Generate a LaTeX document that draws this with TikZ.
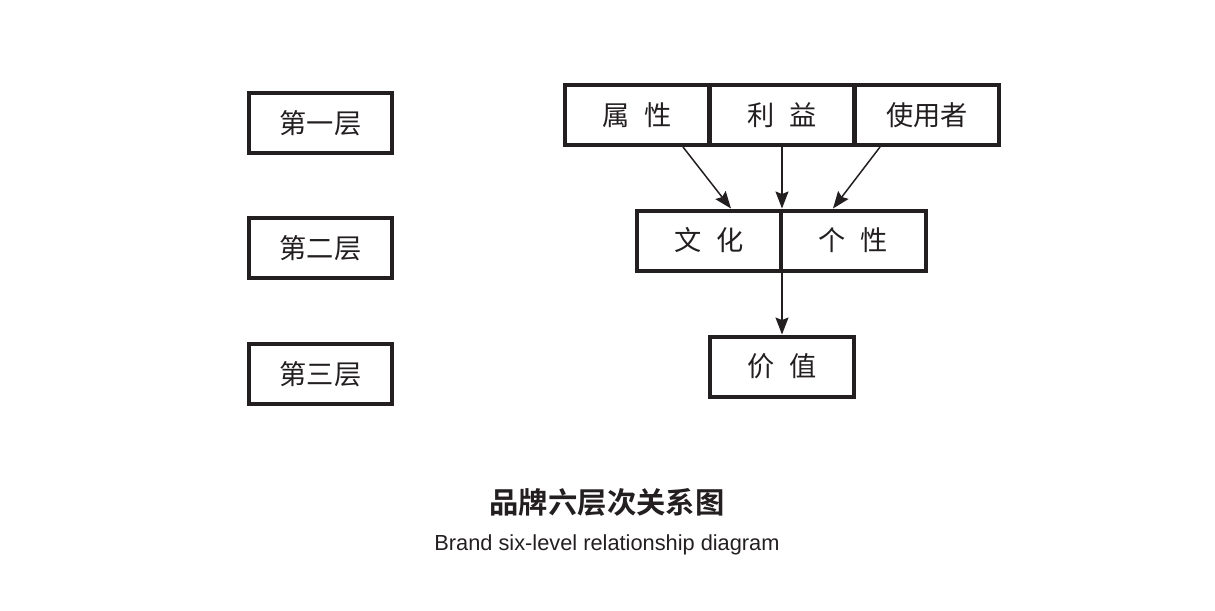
\documentclass[tikz,border=0pt]{standalone}
\usepackage{fontspec}
\setmainfont{Liberation Sans}
\newfontfamily\cjk{Noto Sans CJK SC}[BoldFont={Noto Sans CJK SC Bold}]
\usetikzlibrary{arrows.meta}
\definecolor{ink}{HTML}{231F20}
\newcommand{\gap}{\hspace{.55em}}

\begin{document}
\begin{tikzpicture}
[x=.02cm,y=-.02cm,
 box/.style={draw=ink,line width=.08cm,minimum width=2.9cm,minimum height=1.2cm,inner sep=0pt,
   text=ink,font=\cjk\fontsize{15.5}{18}\selectfont},
 arr/.style={draw=ink,line width=.03cm,-{Stealth[length=3.4mm,width=2.6mm,inset=.5mm]}}]
\useasboundingbox (0,0) rectangle (1215,610);

% levels
\node[box,minimum width=2.86cm] (l1) at (320.5,123) {第一层};
\node[box,minimum width=2.86cm] (l2) at (320.5,248) {第二层};
\node[box,minimum width=2.86cm] (l3) at (320.5,374) {第三层};

% first level
\node[box] (attr) at (637,115) {属\gap 性};
\node[box] (bene) at (782,115) {利\gap 益};
\node[box] (user) at (927,115) {使用者};

% second level
\node[box] (cult) at (709,240.5) {文\gap 化};
\node[box] (pers) at (853.5,240.5) {个\gap 性};

% third level
\node[box] (valu) at (782,366.5) {价\gap 值};

\draw[arr] ([xshift=.92cm]attr.south) -- ([xshift=.44cm]cult.north);
\draw[arr] (bene.south) -- (bene.south |- cult.north);
\draw[arr] ([xshift=-.94cm]user.south) -- ([xshift=-.41cm]pers.north);
\draw[arr] (valu.north |- cult.south) -- (valu.north);

\node[text=ink,font=\cjk\bfseries\fontsize{16.7}{20}\selectfont] (title) at (607,502) {品牌六层次关系图};
\node[text=ink,font=\fontsize{12.4}{15}\selectfont] (sub) at (607,545) {Brand six-level relationship diagram};
\end{tikzpicture}
\end{document}
